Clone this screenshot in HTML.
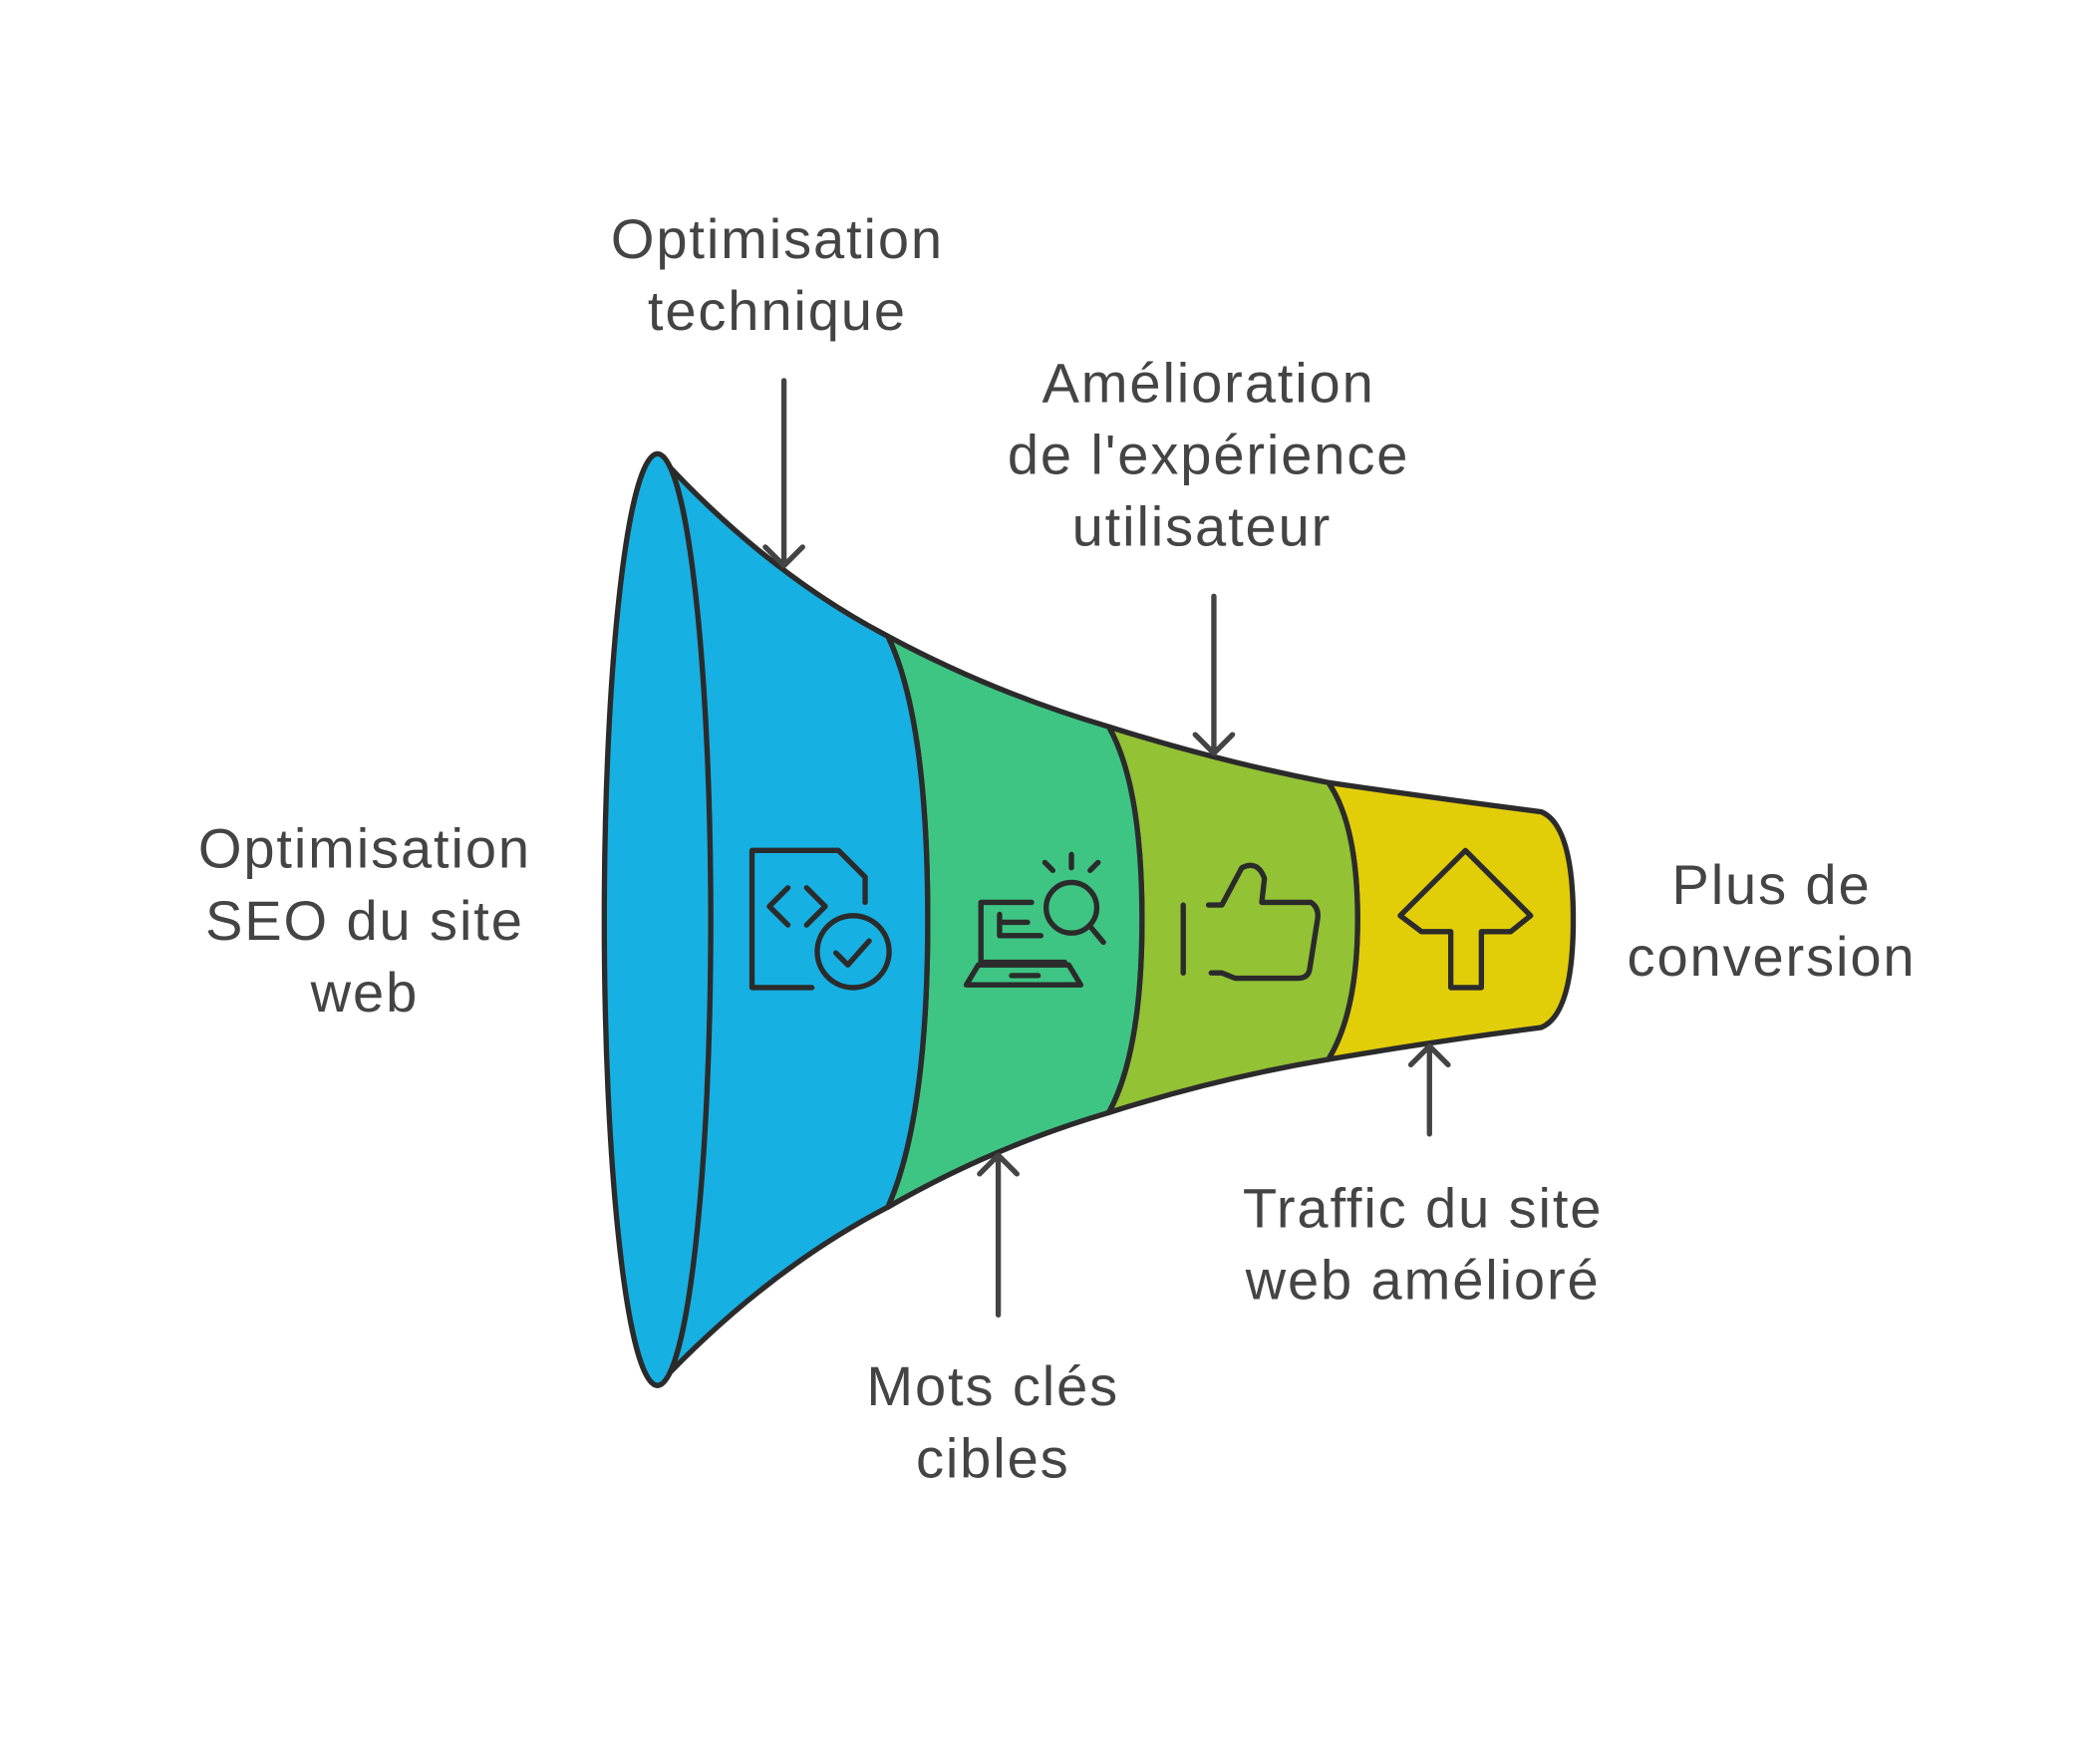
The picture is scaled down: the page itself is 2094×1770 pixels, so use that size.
<!DOCTYPE html>
<html><head><meta charset="utf-8"><style>html,body{margin:0;padding:0;background:#fff}svg{display:block}</style></head>
<body>
<svg width="2094" height="1770" viewBox="0 0 1568 1325.4" xmlns="http://www.w3.org/2000/svg">
<g stroke="#2b2b2b" stroke-width="4" stroke-linejoin="round" stroke-linecap="round">
<path d="M998,588 Q1080,600 1158,610 Q1182,620 1182,691 Q1182,762 1158,772 Q1080,782 998,796 Q1020,760 1020,691 Q1020,620 998,588 Z" fill="#e2cd09"/>
<path d="M833,546 Q915,572 998,588 Q1020,620 1020,691 Q1020,760 998,796 Q915,810 833,836 Q858,790 858,691 Q858,590 833,546 Z" fill="#93c235"/>
<path d="M667,478 Q745,520 833,546 Q858,590 858,691 Q858,790 833,836 Q745,862 667,907 Q697,840 697,691 Q697,540 667,478 Z" fill="#3ec583"/>
<path d="M494,341 Q575,430 667,478 Q697,540 697,691 Q697,840 667,907 Q575,955 494,1041 Z" fill="#17b0e2"/>
<ellipse cx="494" cy="691" rx="40" ry="350" fill="#17b0e2"/>
</g>
<g stroke="#444" stroke-width="4" fill="none" stroke-linecap="round" stroke-linejoin="round">
<path d="M589,286 V425 M575,411 L589,425 L603,411"/>
<path d="M912,448 V566 M898,552 L912,566 L926,552"/>
<path d="M750,988 V868 M736,882 L750,868 L764,882"/>
<path d="M1074,852 V786 M1060,800 L1074,786 L1088,800"/>
</g>
<g stroke="#2b2b2b" stroke-width="4" fill="none" stroke-linecap="round" stroke-linejoin="round">
<path d="M610,742 H565 V639 H630 L650,659 V678"/>
<path d="M592,667 L578,681 L592,695 M606,667 L620,681 L606,695"/>
<circle cx="641" cy="715" r="27"/>
<path d="M628,716 L637,725 L653,707"/>
<path d="M775,678 H737 V723 H800 M726,740 H812 L803,725 H735 Z"/>
<path d="M751,687 V703 H782 M751,693 H772"/>
<circle cx="805" cy="682" r="19"/>
<path d="M819,696 L829,708 M805,642 V652 M785,648 L791,654 M825,648 L819,654"/>
<path d="M760,733 H780"/>
<path d="M889,680 V731 M908,680 H918 L933,652 Q945,646 950,660 L948,678 H985 Q991,682 990,690 L984,728 Q983,735 975,735 H928 L918,731 H910"/>
<path d="M1090,742 V700 H1068 L1052,688 L1101,639 L1150,688 L1135,700 H1113 V742 Z"/>
</g>
<g font-family="Liberation Sans, sans-serif" font-size="42" letter-spacing="1.4" fill="#444" text-anchor="middle">
<text x="584" y="194">Optimisation</text>
<text x="584" y="248">technique</text>
<text x="908" y="302">Amélioration</text>
<text x="908" y="356">de l'expérience</text>
<text x="903" y="410">utilisateur</text>
<text x="274" y="652">Optimisation</text>
<text x="274" y="706">SEO du site</text>
<text x="274" y="760">web</text>
<text x="1331" y="679">Plus de</text>
<text x="1331" y="733">conversion</text>
<text x="1069" y="922">Traffic du site</text>
<text x="1069" y="976">web amélioré</text>
<text x="746" y="1056">Mots clés</text>
<text x="746" y="1110">cibles</text>
</g>
</svg>
</body></html>
